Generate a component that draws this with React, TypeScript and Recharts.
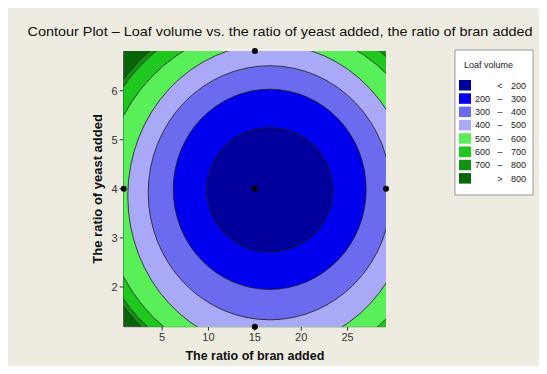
import React from 'react';
import { ScatterChart, Scatter, XAxis, YAxis, CartesianGrid, Customized } from 'recharts';

// Contour lines (outermost first): level, centre and half-axes in data units
const contourLevels = [800, 700, 600, 500, 400, 300, 200];
const contourCenterX = [16.4, 16.4, 16.7, 16.6, 16.6, 16.6, 16.6];
const contourCenterY = [3.92, 3.92, 3.85, 3.85, 3.92, 3.99, 3.98];
const contourRadiusX = [19.6, 19.2, 18.0, 15.3, 13.1, 10.4, 6.8];
const contourRadiusY = [3.81, 3.71, 3.47, 3.1, 2.59, 2.04, 1.27];

// Bands (legend order)
const bandUpper = [200, 300, 400, 500, 600, 700, 800, 9999];
const bandLow = ['', '200', '300', '400', '500', '600', '700', ''];
const bandSep = ['<', '\u2013', '\u2013', '\u2013', '\u2013', '\u2013', '\u2013', '>'];
const bandHigh = ['200', '300', '400', '500', '600', '700', '800', '800'];
const bandColors = ['#00009c', '#0000ee', '#6b6bef', '#a9a9f7', '#58ef58', '#1fc81f', '#119211', '#0a640a'];

// Design points
const designX = [15, 0.86, 29.14, 15, 15];
const designY = [4, 4, 4, 6.81, 1.19];

const xTicks = [5, 10, 15, 20, 25];
const yTicks = [2, 3, 4, 5, 6];
const xDomain = [0.86, 29.14];
const yDomain = [1.19, 6.81];

const FONT = '"Liberation Sans", Arial, sans-serif';

const contourData = contourLevels.map((lvl, i) => [
  { x: contourCenterX[i], y: contourCenterY[i] },
  { x: contourCenterX[i] + contourRadiusX[i], y: contourCenterY[i] },
  { x: contourCenterX[i], y: contourCenterY[i] + contourRadiusY[i] },
]);

const designData = designX.map((x, i) => ({ x, y: designY[i] }));

const EmptyShape = () => <g />;

const makeEllipse = (color: string) => (props: any) => {
  const pts = props.points || [];
  if (pts.length < 3) return <g />;
  const c = pts[0];
  const ex = pts[1];
  const ey = pts[2];
  return (
    <ellipse
      cx={c.x}
      cy={c.y}
      rx={Math.abs(ex.x - c.x)}
      ry={Math.abs(ey.y - c.y)}
      fill={color}
      stroke="#1c1c1c"
      strokeWidth={0.8}
    />
  );
};

const DotShape = (p: any) => <circle cx={p.cx} cy={p.cy} r={3} fill="#000" />;

const Decorations = () => (
  <g>
    <text
      x={280}
      y={36}
      textAnchor="middle"
      fontFamily={FONT}
      fontSize={13}
      fill="#111"
      textLength={505}
      lengthAdjust="spacingAndGlyphs"
    >
      Contour Plot – Loaf volume vs. the ratio of yeast added, the ratio of bran added
    </text>
    <rect x={455} y={50} width={78} height={145} fill="#fff" stroke="#9a9a9a" strokeWidth={1} />
    <text x={464} y={68} fontFamily={FONT} fontSize={9} fill="#222">
      Loaf volume
    </text>
    {bandColors.map((col, i) => {
      const top = 80 + i * 13.3;
      const base = top + 8.5;
      return (
        <g key={i}>
          <rect x={459} y={top} width={12} height={10.5} fill={col} />
          <text x={490} y={base} textAnchor="end" fontFamily={FONT} fontSize={9} fill="#222">
            {bandLow[i]}
          </text>
          <text x={500} y={base} textAnchor="middle" fontFamily={FONT} fontSize={9} fill="#222">
            {bandSep[i]}
          </text>
          <text x={526} y={base} textAnchor="end" fontFamily={FONT} fontSize={9} fill="#222">
            {bandHigh[i]}
          </text>
        </g>
      );
    })}
  </g>
);

const XLabel = (props: any) => {
  const vb = props.viewBox || {};
  return (
    <text
      x={vb.x + vb.width / 2}
      y={vb.y + 33}
      textAnchor="middle"
      fontFamily={FONT}
      fontWeight="bold"
      fontSize={12.5}
      fill="#111"
    >
      The ratio of bran added
    </text>
  );
};

const YLabel = (props: any) => {
  const vb = props.viewBox || {};
  const cx = vb.x + 18;
  const cy = vb.y + vb.height / 2;
  return (
    <text
      x={cx}
      y={cy}
      transform={`rotate(-90 ${cx} ${cy})`}
      textAnchor="middle"
      fontFamily={FONT}
      fontWeight="bold"
      fontSize={13}
      fill="#111"
    >
      The ratio of yeast added
    </text>
  );
};

export default function App() {
  return (
    <div style={{ margin: -8, width: 547, height: 374, background: '#eeece0', overflow: 'hidden' }}>
      <ScatterChart
        width={547}
        height={374}
        margin={{ top: 51, right: 161, bottom: 17.3, left: 83.7 }}
      >
        <CartesianGrid fill={bandColors[7]} stroke="none" />
        <XAxis
          type="number"
          dataKey="x"
          domain={xDomain}
          ticks={xTicks}
          allowDataOverflow
          height={30}
          tickSize={4}
          tickLine={{ stroke: '#333' }}
          axisLine={{ stroke: '#444' }}
          tick={{ fontSize: 11, fill: '#333', fontFamily: FONT }}
          label={<XLabel />}
        />
        <YAxis
          type="number"
          dataKey="y"
          domain={yDomain}
          ticks={yTicks}
          allowDataOverflow
          width={40}
          tickSize={4}
          tickLine={{ stroke: '#333' }}
          axisLine={{ stroke: '#444' }}
          tick={{ fontSize: 11, fill: '#333', fontFamily: FONT }}
          label={<YLabel />}
        />
        <XAxis
          xAxisId="d"
          type="number"
          dataKey="x"
          orientation="top"
          domain={xDomain}
          height={0}
          tick={false}
          tickLine={false}
          axisLine={{ stroke: '#222', strokeWidth: 1.2 }}
        />
        <YAxis
          yAxisId="d"
          type="number"
          dataKey="y"
          orientation="right"
          domain={yDomain}
          width={0}
          tick={false}
          tickLine={false}
          axisLine={{ stroke: '#444' }}
        />
        {contourLevels.map((lvl, i) => (
          <Scatter
            key={lvl}
            name={`${lvl}`}
            data={contourData[i]}
            shape={EmptyShape}
            line={makeEllipse(bandColors[bandUpper.indexOf(lvl)])}
            isAnimationActive={false}
          />
        ))}
        <Scatter
          xAxisId="d"
          yAxisId="d"
          data={designData}
          shape={DotShape}
          isAnimationActive={false}
        />
        <Customized component={<Decorations />} />
      </ScatterChart>
    </div>
  );
}
